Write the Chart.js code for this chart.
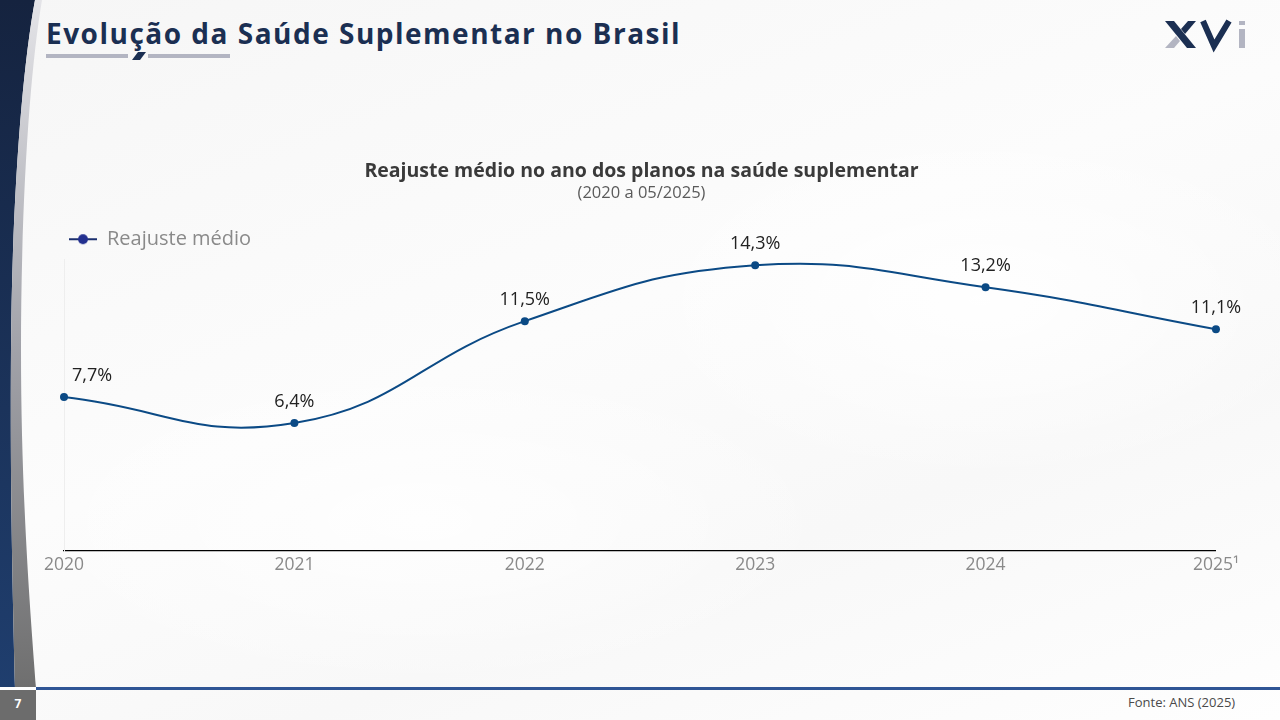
<!DOCTYPE html>
<html lang="pt-BR">
<head>
<meta charset="utf-8">
<title>Evolução da Saúde Suplementar no Brasil</title>
<script src="https://cdn.jsdelivr.net/npm/chart.js@4.4.1/dist/chart.umd.min.js"></script>
<style>
	html, body { margin: 0; padding: 0; }
	body {
		width: 1280px; height: 720px; overflow: hidden; position: relative;
		font-family: 'Open Sans', 'Noto Sans', sans-serif;
		background:
			radial-gradient(ellipse 520px 260px at 980px 300px, rgba(255,255,255,0.9), rgba(255,255,255,0) 70%),
			radial-gradient(ellipse 600px 240px at 420px 520px, rgba(255,255,255,0.8), rgba(255,255,255,0) 70%),
			linear-gradient(160deg, #f6f6f6 0%, #fcfcfc 45%, #f8f8f8 70%, #fefefe 100%);
	}
	#deco { position: absolute; left: 0; top: 0; }
	#titulo {
		position: absolute; left: 46px; top: 14px; margin: 0;
		font-size: 28px; font-weight: 700; color: #1b2f52; letter-spacing: 1.5px;
	}
	#fonte { position: absolute; left: 1128px; top: 693px; font-size: 13px; color: #4a4a4a; }
	#pagina { position: absolute; left: 0; top: 690px; width: 36px; height: 30px; background: #6c6c6c;
		color: #fff; font-size: 12px; font-weight: 700; text-align: center; line-height: 28px; }
	#grafico { position: absolute; left: 40px; top: 150px; width: 1203px; height: 430px; }
</style>
</head>
<body>
<svg id="deco" width="1280" height="720">
	<defs>
		<linearGradient id="navy" x1="0" y1="0" x2="0" y2="1">
			<stop offset="0" stop-color="#15233f"/>
			<stop offset="1" stop-color="#1f3e6e"/>
		</linearGradient>
		<linearGradient id="cinza" x1="0" y1="0" x2="0" y2="1">
			<stop offset="0" stop-color="#e4e4e8"/>
			<stop offset="0.5" stop-color="#a2a3aa"/>
			<stop offset="1" stop-color="#6f6f6f"/>
		</linearGradient>
	</defs>
	<path d="M0 0 L35 0 C22 70 12 200 11 350 C10 500 13 600 15 688 L0 688 Z" fill="url(#navy)"/>
	<path d="M35 0 L42 0 C30 70 21 200 21 350 C21 500 31 620 36 688 L15 688 C13 600 10 500 11 350 C12 200 22 70 35 0 Z" fill="url(#cinza)"/>
	<rect x="36" y="687" width="1244" height="3" fill="#2f5595"/>
	<rect x="0" y="687" width="36" height="3" fill="#ffffff"/>
	<!-- barra sob o titulo -->
	<rect x="46" y="54" width="82" height="4" fill="#b3b5c2"/>
	<polygon points="132,60 138,52 146,52 140,60" fill="#1b2f52"/>
	<rect x="148" y="54" width="82" height="4" fill="#b3b5c2"/>
	<!-- logo XVi -->
	<polygon points="1165,21 1174,21 1196,48 1187,48" fill="#1b2f52"/>
	<polygon points="1188,21 1196,21 1185,34 1181,29" fill="#1b2f52"/>
	<polygon points="1165,48 1174,48 1180,41 1176,36" fill="#b3b5c2"/>
	<polyline points="1203,21 1214,46 1229,21" fill="none" stroke="#1b2f52" stroke-width="6" stroke-linejoin="miter"/>
	<rect x="1239" y="21" width="6" height="4" fill="#b3b5c2"/>
	<rect x="1239" y="29" width="6" height="19" fill="#b3b5c2"/>
</svg>
<h1 id="titulo">Evolução da Saúde Suplementar no Brasil</h1>
<div id="pagina">7</div>
<div id="fonte">Fonte: ANS (2025)</div>
<div id="grafico"><canvas id="chartReajuste"></canvas></div>

<script>
const anos = ['2020', '2021', '2022', '2023', '2024', '2025¹'];
const reajusteMedio = [7.7, 6.4, 11.5, 14.3, 13.2, 11.1];

const corLinha = '#0b4a85';
const fonte = "'Open Sans', 'Noto Sans', sans-serif";

// icone da legenda: linha com bolinha
const iconeLegenda = document.createElement('canvas');
iconeLegenda.width = 28;
iconeLegenda.height = 12;
(function() {
	let c = iconeLegenda.getContext('2d');
	c.strokeStyle = '#1b2f6e';
	c.lineWidth = 2;
	c.beginPath();
	c.moveTo(0, 6);
	c.lineTo(28, 6);
	c.stroke();
	c.fillStyle = '#23308f';
	c.beginPath();
	c.arc(14, 6, 5, 0, Math.PI * 2);
	c.fill();
})();

function formatar(v) {
	return `${v.toFixed(1).replace('.', ',')}%`;
}

const rotulosDados = {
	id: 'rotulosDados',
	afterDatasetsDraw(chart) {
		let ctx = chart.ctx;
		let meta = chart.getDatasetMeta(0);
		ctx.save();
		ctx.font = `18px ${fonte}`;
		ctx.fillStyle = '#222222';
		ctx.textBaseline = 'middle';
		meta.data.forEach(function(ponto, i) {
			let valor = chart.data.datasets[0].data[i];
			if (i === 0) {
				ctx.textAlign = 'left';
				ctx.fillText(formatar(valor), ponto.x + 8, ponto.y - 21);
			} else {
				ctx.textAlign = 'center';
				ctx.fillText(formatar(valor), ponto.x, ponto.y - 21);
			}
		});
		ctx.restore();
	}
};

new Chart(document.getElementById('chartReajuste'), {
	type: 'line',
	data: {
		labels: anos,
		datasets: [{
			label: 'Reajuste médio',
			data: reajusteMedio,
			borderColor: corLinha,
			backgroundColor: corLinha,
			borderWidth: 2,
			pointRadius: 4,
			pointHoverRadius: 4,
			pointBackgroundColor: corLinha,
			pointBorderWidth: 0,
			tension: 0.45,
			clip: false,
		}],
	},
	plugins: [rotulosDados],
	options: {
		responsive: true,
		maintainAspectRatio: false,
		animation: false,
		layout: { padding: { left: 21, right: 21, top: 0, bottom: 0 } },
		plugins: {
			title: {
				display: true,
				text: 'Reajuste médio no ano dos planos na saúde suplementar',
				color: '#3a3a3a',
				font: { family: fonte, size: 19.5, weight: 'bold' },
				padding: { top: 10, bottom: 0 },
			},
			subtitle: {
				display: true,
				text: '(2020 a 05/2025)',
				color: '#5a5a5a',
				font: { family: fonte, size: 16.5 },
				padding: { top: 0, bottom: 18 },
			},
			legend: {
				position: 'top',
				align: 'start',
				labels: {
					usePointStyle: true,
					pointStyleWidth: 28,
					padding: 8,
					color: '#8a8a8a',
					font: { family: fonte, size: 20 },
					generateLabels: function(chart) {
						return [{
							text: chart.data.datasets[0].label,
							pointStyle: iconeLegenda,
							fillStyle: corLinha,
							strokeStyle: corLinha,
							fontColor: '#8a8a8a',
							datasetIndex: 0,
						}];
					},
				},
			},
			tooltip: { enabled: false },
		},
		scales: {
			x: {
				offset: false,
				grid: { display: false, drawTicks: false },
				border: { color: '#000000', width: 1.2 },
				ticks: { color: '#8a8a8a', font: { family: fonte, size: 17.5 }, padding: 4, maxRotation: 0 },
			},
			y: {
				min: 0,
				max: 14.6,
				grid: { display: false, drawTicks: false },
				border: { color: '#eeeeee' },
				ticks: { display: false },
			},
		},
	},
});
</script>
</body>
</html>
